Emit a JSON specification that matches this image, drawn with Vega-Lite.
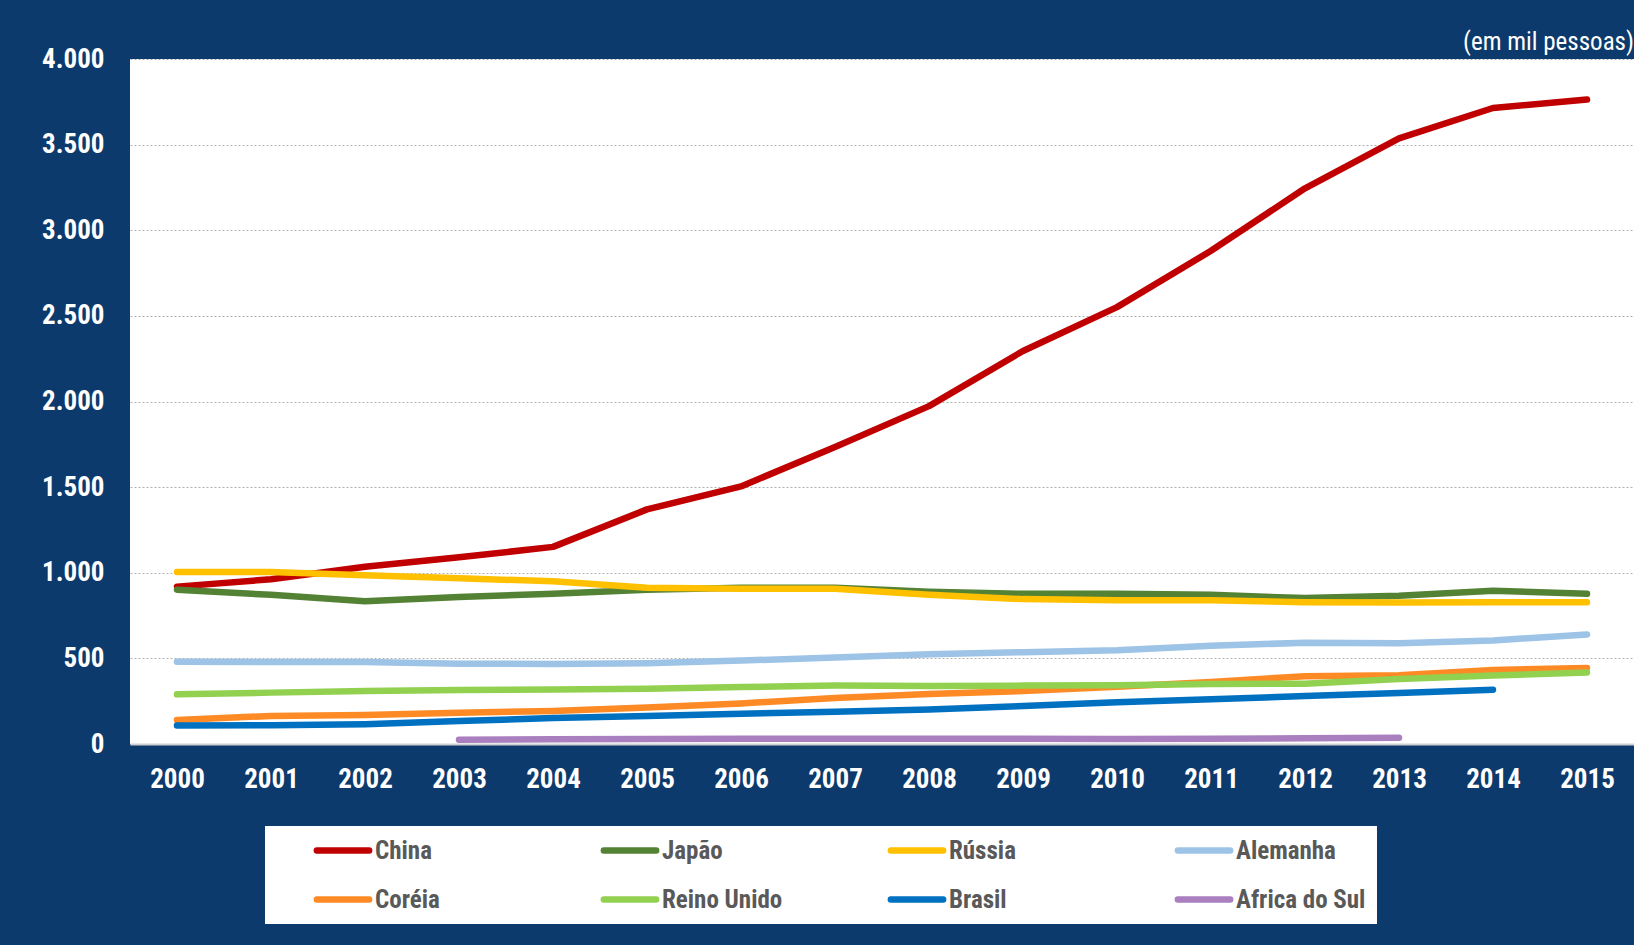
{
  "$schema": "https://vega.github.io/schema/vega-lite/v6.json",
  "width": 1504,
  "height": 685,
  "autosize": "none",
  "padding": {"left": 130, "top": 59, "right": 0, "bottom": 201},
  "background": "#0d3a6c",
  "title": {
    "text": "(em mil pessoas)",
    "anchor": "end",
    "orient": "top",
    "offset": 8,
    "dy": 43,
    "color": "#ffffff",
    "font": "Roboto Condensed, Roboto, sans-serif",
    "fontSize": 25,
    "fontWeight": "normal",
    "baseline": "bottom"
  },
  "config": {
    "view": {"fill": "#ffffff", "stroke": null},
    "font": "Roboto Condensed, Roboto, sans-serif"
  },
  "data": {
    "values": [
      {"pais": "China", "ano": 2000, "valor": 919},
      {"pais": "China", "ano": 2001, "valor": 962},
      {"pais": "China", "ano": 2002, "valor": 1035},
      {"pais": "China", "ano": 2003, "valor": 1090},
      {"pais": "China", "ano": 2004, "valor": 1151},
      {"pais": "China", "ano": 2005, "valor": 1370},
      {"pais": "China", "ano": 2006, "valor": 1504},
      {"pais": "China", "ano": 2007, "valor": 1735},
      {"pais": "China", "ano": 2008, "valor": 1973},
      {"pais": "China", "ano": 2009, "valor": 2295},
      {"pais": "China", "ano": 2010, "valor": 2551},
      {"pais": "China", "ano": 2011, "valor": 2880},
      {"pais": "China", "ano": 2012, "valor": 3245},
      {"pais": "China", "ano": 2013, "valor": 3537},
      {"pais": "China", "ano": 2014, "valor": 3714},
      {"pais": "China", "ano": 2015, "valor": 3763},
      {"pais": "Japão", "ano": 2000, "valor": 901},
      {"pais": "Japão", "ano": 2001, "valor": 871},
      {"pais": "Japão", "ano": 2002, "valor": 834},
      {"pais": "Japão", "ano": 2003, "valor": 858},
      {"pais": "Japão", "ano": 2004, "valor": 877},
      {"pais": "Japão", "ano": 2005, "valor": 901},
      {"pais": "Japão", "ano": 2006, "valor": 913},
      {"pais": "Japão", "ano": 2007, "valor": 913},
      {"pais": "Japão", "ano": 2008, "valor": 889},
      {"pais": "Japão", "ano": 2009, "valor": 877},
      {"pais": "Japão", "ano": 2010, "valor": 877},
      {"pais": "Japão", "ano": 2011, "valor": 871},
      {"pais": "Japão", "ano": 2012, "valor": 852},
      {"pais": "Japão", "ano": 2013, "valor": 865},
      {"pais": "Japão", "ano": 2014, "valor": 895},
      {"pais": "Japão", "ano": 2015, "valor": 877},
      {"pais": "Rússia", "ano": 2000, "valor": 1005},
      {"pais": "Rússia", "ano": 2001, "valor": 1005},
      {"pais": "Rússia", "ano": 2002, "valor": 986},
      {"pais": "Rússia", "ano": 2003, "valor": 968},
      {"pais": "Rússia", "ano": 2004, "valor": 950},
      {"pais": "Rússia", "ano": 2005, "valor": 913},
      {"pais": "Rússia", "ano": 2006, "valor": 907},
      {"pais": "Rússia", "ano": 2007, "valor": 907},
      {"pais": "Rússia", "ano": 2008, "valor": 871},
      {"pais": "Rússia", "ano": 2009, "valor": 846},
      {"pais": "Rússia", "ano": 2010, "valor": 840},
      {"pais": "Rússia", "ano": 2011, "valor": 840},
      {"pais": "Rússia", "ano": 2012, "valor": 828},
      {"pais": "Rússia", "ano": 2013, "valor": 826},
      {"pais": "Rússia", "ano": 2014, "valor": 828},
      {"pais": "Rússia", "ano": 2015, "valor": 828},
      {"pais": "Alemanha", "ano": 2000, "valor": 481},
      {"pais": "Alemanha", "ano": 2001, "valor": 479},
      {"pais": "Alemanha", "ano": 2002, "valor": 479},
      {"pais": "Alemanha", "ano": 2003, "valor": 469},
      {"pais": "Alemanha", "ano": 2004, "valor": 467},
      {"pais": "Alemanha", "ano": 2005, "valor": 472},
      {"pais": "Alemanha", "ano": 2006, "valor": 487},
      {"pais": "Alemanha", "ano": 2007, "valor": 505},
      {"pais": "Alemanha", "ano": 2008, "valor": 524},
      {"pais": "Alemanha", "ano": 2009, "valor": 536},
      {"pais": "Alemanha", "ano": 2010, "valor": 548},
      {"pais": "Alemanha", "ano": 2011, "valor": 574},
      {"pais": "Alemanha", "ano": 2012, "valor": 591},
      {"pais": "Alemanha", "ano": 2013, "valor": 589},
      {"pais": "Alemanha", "ano": 2014, "valor": 605},
      {"pais": "Alemanha", "ano": 2015, "valor": 640},
      {"pais": "Coréia", "ano": 2000, "valor": 140},
      {"pais": "Coréia", "ano": 2001, "valor": 164},
      {"pais": "Coréia", "ano": 2002, "valor": 170},
      {"pais": "Coréia", "ano": 2003, "valor": 183},
      {"pais": "Coréia", "ano": 2004, "valor": 192},
      {"pais": "Coréia", "ano": 2005, "valor": 213},
      {"pais": "Coréia", "ano": 2006, "valor": 237},
      {"pais": "Coréia", "ano": 2007, "valor": 268},
      {"pais": "Coréia", "ano": 2008, "valor": 292},
      {"pais": "Coréia", "ano": 2009, "valor": 309},
      {"pais": "Coréia", "ano": 2010, "valor": 335},
      {"pais": "Coréia", "ano": 2011, "valor": 362},
      {"pais": "Coréia", "ano": 2012, "valor": 396},
      {"pais": "Coréia", "ano": 2013, "valor": 402},
      {"pais": "Coréia", "ano": 2014, "valor": 432},
      {"pais": "Coréia", "ano": 2015, "valor": 444},
      {"pais": "Reino Unido", "ano": 2000, "valor": 290},
      {"pais": "Reino Unido", "ano": 2001, "valor": 300},
      {"pais": "Reino Unido", "ano": 2002, "valor": 309},
      {"pais": "Reino Unido", "ano": 2003, "valor": 316},
      {"pais": "Reino Unido", "ano": 2004, "valor": 318},
      {"pais": "Reino Unido", "ano": 2005, "valor": 323},
      {"pais": "Reino Unido", "ano": 2006, "valor": 333},
      {"pais": "Reino Unido", "ano": 2007, "valor": 341},
      {"pais": "Reino Unido", "ano": 2008, "valor": 338},
      {"pais": "Reino Unido", "ano": 2009, "valor": 341},
      {"pais": "Reino Unido", "ano": 2010, "valor": 343},
      {"pais": "Reino Unido", "ano": 2011, "valor": 350},
      {"pais": "Reino Unido", "ano": 2012, "valor": 352},
      {"pais": "Reino Unido", "ano": 2013, "valor": 380},
      {"pais": "Reino Unido", "ano": 2014, "valor": 400},
      {"pais": "Reino Unido", "ano": 2015, "valor": 418},
      {"pais": "Brasil", "ano": 2000, "valor": 108},
      {"pais": "Brasil", "ano": 2001, "valor": 110},
      {"pais": "Brasil", "ano": 2002, "valor": 116},
      {"pais": "Brasil", "ano": 2003, "valor": 134},
      {"pais": "Brasil", "ano": 2004, "valor": 152},
      {"pais": "Brasil", "ano": 2005, "valor": 164},
      {"pais": "Brasil", "ano": 2006, "valor": 177},
      {"pais": "Brasil", "ano": 2007, "valor": 189},
      {"pais": "Brasil", "ano": 2008, "valor": 201},
      {"pais": "Brasil", "ano": 2009, "valor": 222},
      {"pais": "Brasil", "ano": 2010, "valor": 244},
      {"pais": "Brasil", "ano": 2011, "valor": 262},
      {"pais": "Brasil", "ano": 2012, "valor": 280},
      {"pais": "Brasil", "ano": 2013, "valor": 298},
      {"pais": "Brasil", "ano": 2014, "valor": 317},
      {"pais": "Africa do Sul", "ano": 2003, "valor": 25},
      {"pais": "Africa do Sul", "ano": 2004, "valor": 28},
      {"pais": "Africa do Sul", "ano": 2005, "valor": 29},
      {"pais": "Africa do Sul", "ano": 2006, "valor": 30},
      {"pais": "Africa do Sul", "ano": 2007, "valor": 30},
      {"pais": "Africa do Sul", "ano": 2008, "valor": 30},
      {"pais": "Africa do Sul", "ano": 2009, "valor": 30},
      {"pais": "Africa do Sul", "ano": 2010, "valor": 29},
      {"pais": "Africa do Sul", "ano": 2011, "valor": 30},
      {"pais": "Africa do Sul", "ano": 2012, "valor": 34},
      {"pais": "Africa do Sul", "ano": 2013, "valor": 37}
    ]
  },
  "mark": {"type": "line", "strokeWidth": 6.5, "strokeCap": "round", "strokeJoin": "round"},
  "encoding": {
    "x": {
      "field": "ano",
      "type": "ordinal",
      "scale": {"type": "point", "padding": 0.5},
      "axis": {
        "title": null,
        "labelAngle": 0,
        "labelColor": "#ffffff",
        "labelFontSize": 27,
        "labelFontWeight": "bold",
        "labelPadding": 22,
        "ticks": false,
        "grid": false,
        "domain": true,
        "domainColor": "#d0d0d0",
        "domainWidth": 2
      }
    },
    "y": {
      "field": "valor",
      "type": "quantitative",
      "scale": {"domain": [0, 4000], "nice": false},
      "axis": {
        "title": null,
        "values": [0, 500, 1000, 1500, 2000, 2500, 3000, 3500, 4000],
        "labelExpr": "replace(format(datum.value, ',d'), ',', '.')",
        "labelColor": "#ffffff",
        "labelFontSize": 27,
        "labelFontWeight": "bold",
        "labelPadding": 26,
        "ticks": false,
        "domain": false,
        "grid": true,
        "gridColor": "#b0b0b0",
        "gridDash": [2, 2],
        "gridWidth": 1
      }
    },
    "color": {
      "field": "pais",
      "type": "nominal",
      "sort": ["China", "Japão", "Rússia", "Alemanha", "Coréia", "Reino Unido", "Brasil", "Africa do Sul"],
      "scale": {
        "domain": ["China", "Japão", "Rússia", "Alemanha", "Coréia", "Reino Unido", "Brasil", "Africa do Sul"],
        "range": ["#c00000", "#548235", "#ffc000", "#9dc3e6", "#fd8a24", "#92d050", "#0070c0", "#a97fbf"]
      },
      "legend": {
        "title": null,
        "orient": "none",
        "legendX": 135,
        "legendY": 767,
        "direction": "horizontal",
        "columns": 4,
        "gridAlign": "all",
        "fillColor": "#ffffff",
        "padding": 11.5,
        "symbolType": "M-2.75,0H2.75",
        "symbolSize": 361,
        "symbolStrokeWidth": 6.5,
        "symbolOffset": 53.5,
        "labelFontSize": 25,
        "labelFontWeight": "bold",
        "labelColor": "#595959",
        "labelOffset": 19,
        "labelLimit": 300,
        "columnPadding": 59,
        "rowPadding": 23,
        "encode": {"symbols": {"update": {"strokeCap": {"value": "round"}}}}
      }
    }
  }
}
